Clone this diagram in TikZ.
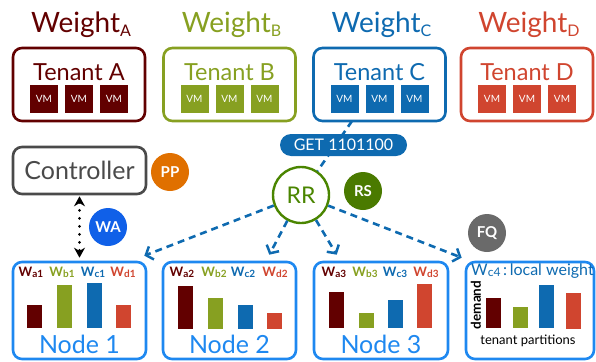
\documentclass[tikz,border=0pt]{standalone}
\usepackage{fontspec}
\setmainfont{Lato}
\usetikzlibrary{arrows.meta,calc}
\definecolor{cA}{HTML}{620000}
\definecolor{cB}{HTML}{87A021}
\definecolor{cC}{HTML}{0E6AB0}
\definecolor{cD}{HTML}{D0452F}
\definecolor{nodeblue}{HTML}{1E88F0}
\definecolor{ctrlgrey}{HTML}{4A4A4A}
\definecolor{rrgreen}{HTML}{4A8500}
\definecolor{ppor}{HTML}{E07000}
\definecolor{wablue}{HTML}{1060E8}
\definecolor{rsgreen}{HTML}{4A7A00}
\definecolor{fqgrey}{HTML}{6A6A6A}
\newcommand\wlab[1]{W\lower1pt\hbox{\fontsize{10}{10}\selectfont #1}}
\newcommand\wlabbig[1]{W\lower1.5pt\hbox{\fontsize{12}{12}\selectfont #1}}
\newcommand\weightlab[1]{Weight\lower4pt\hbox{\fontsize{16}{16}\selectfont #1}}
\begin{document}
\begin{tikzpicture}[x=1pt,y=-1pt,
  tenantbox/.style={draw=#1, line width=2.6pt, rounded corners=9pt, minimum width=132pt, minimum height=73pt, inner sep=0pt},
  weightlbl/.style={text=#1, anchor=base, font=\fontsize{28}{28}\selectfont, inner sep=0pt},
  tenantlbl/.style={text=#1, font=\fontsize{23.5}{23.5}\selectfont, inner sep=0pt},
  vm/.style={fill=#1, minimum size=28pt, inner sep=0pt, text=white, font=\fontsize{10}{10}\selectfont},
  badge/.style={circle, fill=#1, minimum size=38pt, inner sep=0pt, text=white, font=\bfseries\fontsize{15}{15}\selectfont},
  nodebox/.style={draw=nodeblue, line width=2.6pt, rounded corners=9pt, minimum height=97pt, inner sep=0pt},
  nodelbl/.style={text=nodeblue, font=\fontsize{25}{25}\selectfont, inner sep=0pt},
  wl/.style={text=#1, anchor=base, font=\bfseries\fontsize{13}{13}\selectfont, inner sep=0pt},
  flow/.style={draw=cC, line width=2.6pt, dash pattern=on 7pt off 5pt},
  flowarrow/.style={flow, -{Straight Barb[length=6pt,width=14pt,line width=2.5pt]}},
]
\useasboundingbox (0,0) rectangle (596,361);

% tenants
\foreach \n/\c/\x/\L in {tA/cA/79/A, tB/cB/229.5/B, tC/cC/379.5/C, tD/cD/527/D}{
  \node[tenantbox=\c] (\n) at (\x,84.5) {};
  \node[weightlbl=\c] (\n w) at (\x+2,33) {\weightlab{\L}};
  \node[tenantlbl=\c] (\n t) at (\x,72) {Tenant \L};
  \node[vm=\c] (\n v1) at (\x-35,99) {VM};
  \node[vm=\c] (\n v2) at (\x,99) {VM};
  \node[vm=\c] (\n v3) at (\x+35,99) {VM};
}

% controller
\node[draw=ctrlgrey, line width=2.6pt, rounded corners=9pt, minimum width=133pt, minimum height=47pt, inner sep=0pt,
      text=ctrlgrey, font=\fontsize{25}{25}\selectfont] (ctrl) at (79.5,170.5) {Controller};
\node[badge=ppor] (pp) at (170,172) {PP};

% RR and request
\node[circle, draw=rrgreen, line width=2.4pt, minimum size=56pt, inner sep=0pt, text=rrgreen,
      font=\fontsize{23}{23}\selectfont] (rr) at (301,195) {RR};
\coordinate (ctop) at (352,121);
\draw[flow] (ctop) -- (rr);
\node[fill=cC, rounded corners=11pt, minimum width=127pt, minimum height=22pt, inner sep=0pt,
      text=white, font=\fontsize{16}{16}\selectfont] (get) at (343.5,145) {GET 1101100};
\node[badge=rsgreen] (rs) at (363,191) {RS};

% nodes
\node[nodebox, minimum width=133pt] (n1) at (79.5,310.5) {};
\node[nodebox, minimum width=133pt] (n2) at (229.5,310.5) {};
\node[nodebox, minimum width=134pt] (n3) at (381,310.5) {};
\node[nodebox, minimum width=128pt] (n4) at (530,310.5) {};

\node[nodelbl] (n1l) at (79.5,344) {Node 1};
\node[nodelbl] (n2l) at (229.5,344) {Node 2};
\node[nodelbl] (n3l) at (381,344) {Node 3};

% controller <-> node1
\draw[line width=3pt, dash pattern=on 0pt off 8pt, line cap=round,
      {Stealth[length=10pt,width=11pt,line cap=butt]}-{Stealth[length=10pt,width=11pt,line cap=butt]},
      shorten <=1pt, shorten >=3pt] (ctrl.south) -- (n1.north);
\node[badge=wablue] (wa) at (108,227) {WA};

% flows from RR
\draw[flowarrow] (rr) -- ($(n1.north east)+(-3,-5)$);
\draw[flowarrow] (rr) -- ($(n2.north east)+(-28,-6)$);
\draw[flowarrow] (rr) -- ($(n3.north west)+(24,-6)$);
\draw[flowarrow] (rr) -- ($(n4.north west)+(-3,-3)$);
\node[badge=fqgrey] (fq) at (487,233) {FQ};

% node 1 bars
\fill[cA] (27,305) rectangle (42,328);
\fill[cB] (57,285) rectangle (72,328);
\fill[cC] (87,283) rectangle (102,328);
\fill[cD] (116,305) rectangle (131,328);
\node[wl=cA] (w11) at (31,276) {\wlab{a1}};
\node[wl=cB] (w12) at (62,276) {\wlab{b1}};
\node[wl=cC] (w13) at (93,276) {\wlab{c1}};
\node[wl=cD] (w14) at (123,276) {\wlab{d1}};

% node 2 bars
\fill[cA] (178,286) rectangle (193,329);
\fill[cB] (208,298) rectangle (223,329);
\fill[cC] (238,305) rectangle (253,329);
\fill[cD] (267,313) rectangle (282,329);
\node[wl=cA] (w21) at (182,276) {\wlab{a2}};
\node[wl=cB] (w22) at (214,276) {\wlab{b2}};
\node[wl=cC] (w23) at (243,276) {\wlab{c2}};
\node[wl=cD] (w24) at (275,276) {\wlab{d2}};

% node 3 bars
\fill[cA] (329,292) rectangle (344,328);
\fill[cB] (359,313) rectangle (374,328);
\fill[cC] (388,300) rectangle (403,328);
\fill[cD] (417,284) rectangle (432,328);
\node[wl=cA] (w31) at (334,276) {\wlab{a3}};
\node[wl=cB] (w32) at (365,276) {\wlab{b3}};
\node[wl=cC] (w33) at (395,276) {\wlab{c3}};
\node[wl=cD] (w34) at (426,276) {\wlab{d3}};

% node 4
\fill[cA] (486,298) rectangle (501,328);
\fill[cB] (513,307) rectangle (528,328);
\fill[cC] (539,285) rectangle (554,328);
\fill[cD] (566,293) rectangle (581,329);
\node[text=cC, anchor=base west, inner sep=0pt, font=\fontsize{16}{16}\selectfont] (w4) at (471,275)
  {\wlabbig{c4}\,:\,local weight};
\node[rotate=90, inner sep=0pt, font=\bfseries\fontsize{13.5}{13.5}\selectfont] (dem) at (476,305) {demand};
\node[inner sep=0pt, font=\fontsize{13}{13}\selectfont] (tp) at (528,341) {tenant partitions};
\end{tikzpicture}
\end{document}
